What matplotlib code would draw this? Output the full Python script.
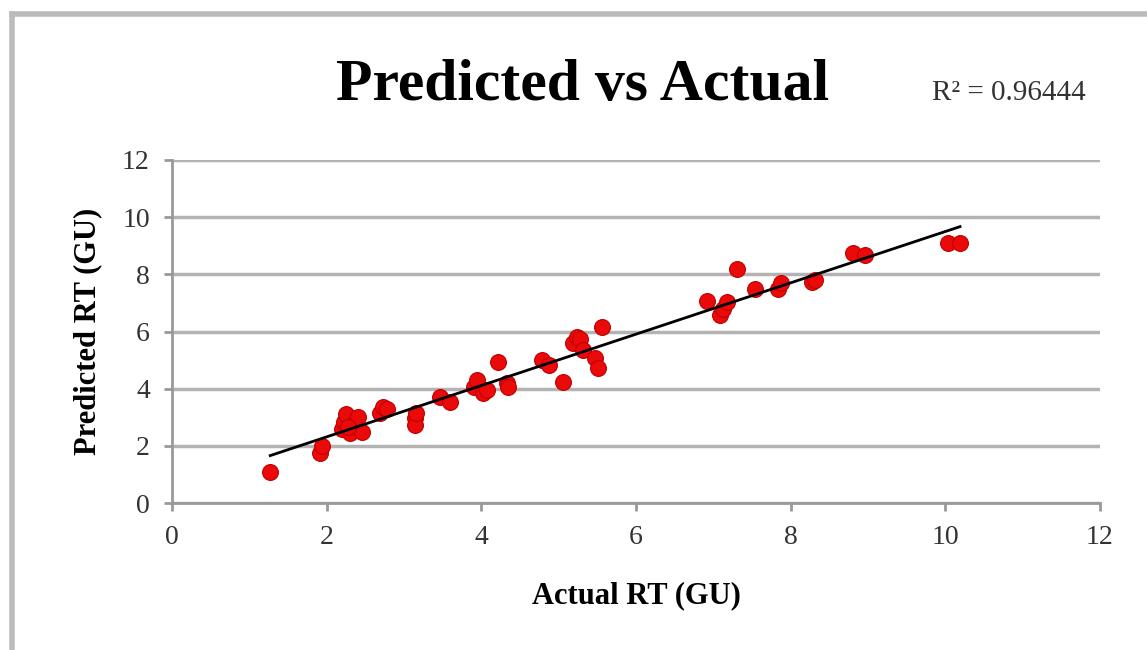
import matplotlib
matplotlib.use("Agg")
import matplotlib.pyplot as plt
import numpy as np
from matplotlib.lines import Line2D

# Values (Actual RT vs Predicted RT, GU)
actual_rt = [1.27, 1.91, 1.94,
             2.20, 2.22, 2.25, 2.30, 2.35, 2.40, 2.45, 2.28,
             2.69, 2.73, 2.78, 3.14, 3.14, 3.16,
             3.47, 3.60, 3.90, 3.95, 4.02, 4.07, 4.22, 4.33, 4.35,
             4.79, 4.87, 5.05, 5.19, 5.24, 5.27, 5.32, 5.47, 5.51, 5.56,
             6.92, 7.09, 7.12, 7.18, 7.30, 7.54, 7.83, 7.87, 8.28, 8.32,
             8.81, 8.96, 10.03, 10.19]
predicted_rt = [1.08, 1.75, 2.00,
                2.60, 2.85, 3.10, 2.45, 2.80, 3.00, 2.50, 2.65,
                3.15, 3.36, 3.30, 2.97, 2.73, 3.15,
                3.70, 3.53, 4.07, 4.30, 3.85, 3.95, 4.93, 4.20, 4.05,
                5.00, 4.83, 4.23, 5.60, 5.80, 5.75, 5.35, 5.07, 4.72, 6.17,
                7.05, 6.57, 6.80, 7.03, 8.20, 7.50, 7.50, 7.70, 7.73, 7.80,
                8.74, 8.67, 9.09, 9.09]
r_squared_label = "R\u00b2 = 0.96444"

x = np.array(actual_rt)
y = np.array(predicted_rt)
slope, intercept = np.polyfit(x, y, 1)
fit_x = np.array([x.min(), x.max()])

plt.rcParams["font.family"] = ["Liberation Serif", "DejaVu Serif"]

fig = plt.figure(figsize=(11.47, 6.5), dpi=100)
ax = fig.add_axes([0.150, 0.226, 0.809, 0.528])

ax.scatter(x, y, s=130, color="#ea0a0a", edgecolors="#c00000",
           linewidths=0.8, zorder=3)
ax.plot(fit_x, slope * fit_x + intercept, color="black", lw=2.0, zorder=4)

ax.set_xlim(0, 12)
ax.set_ylim(0, 12)
ax.set_xticks(range(0, 13, 2))
ax.set_yticks(range(0, 13, 2))
ax.grid(axis="y", color="#b3b3b3", lw=2.5)
ax.set_axisbelow(True)
for side in ("top", "right"):
    ax.spines[side].set_visible(False)
for side in ("left", "bottom"):
    ax.spines[side].set_color("#999999")
    ax.spines[side].set_linewidth(2.0)
ax.tick_params(axis="both", colors="#999999", width=2, length=6,
               labelsize=20, labelcolor="#333333", pad=10)

ax.set_xlabel("Actual RT (GU)", fontsize=22, fontweight="bold", labelpad=22)
ax.set_ylabel("Predicted RT (GU)", fontsize=22, fontweight="bold", labelpad=14)

fig.text(0.508, 0.868, "Predicted vs Actual", ha="center", va="center",
         fontsize=43, fontweight="bold")
fig.text(0.880, 0.857, r_squared_label, ha="center", va="center",
         fontsize=21, color="#333333")

# partial grey frame around the chart (only top and left visible)
fig.add_artist(Line2D([12 / 1147, 12 / 1147], [0, 1 - 14 / 650],
                      transform=fig.transFigure, color="#bbbbbb", lw=4))
fig.add_artist(Line2D([12 / 1147, 1], [1 - 14 / 650, 1 - 14 / 650],
                      transform=fig.transFigure, color="#bbbbbb", lw=4))

fig.savefig("out.png", dpi=100)
